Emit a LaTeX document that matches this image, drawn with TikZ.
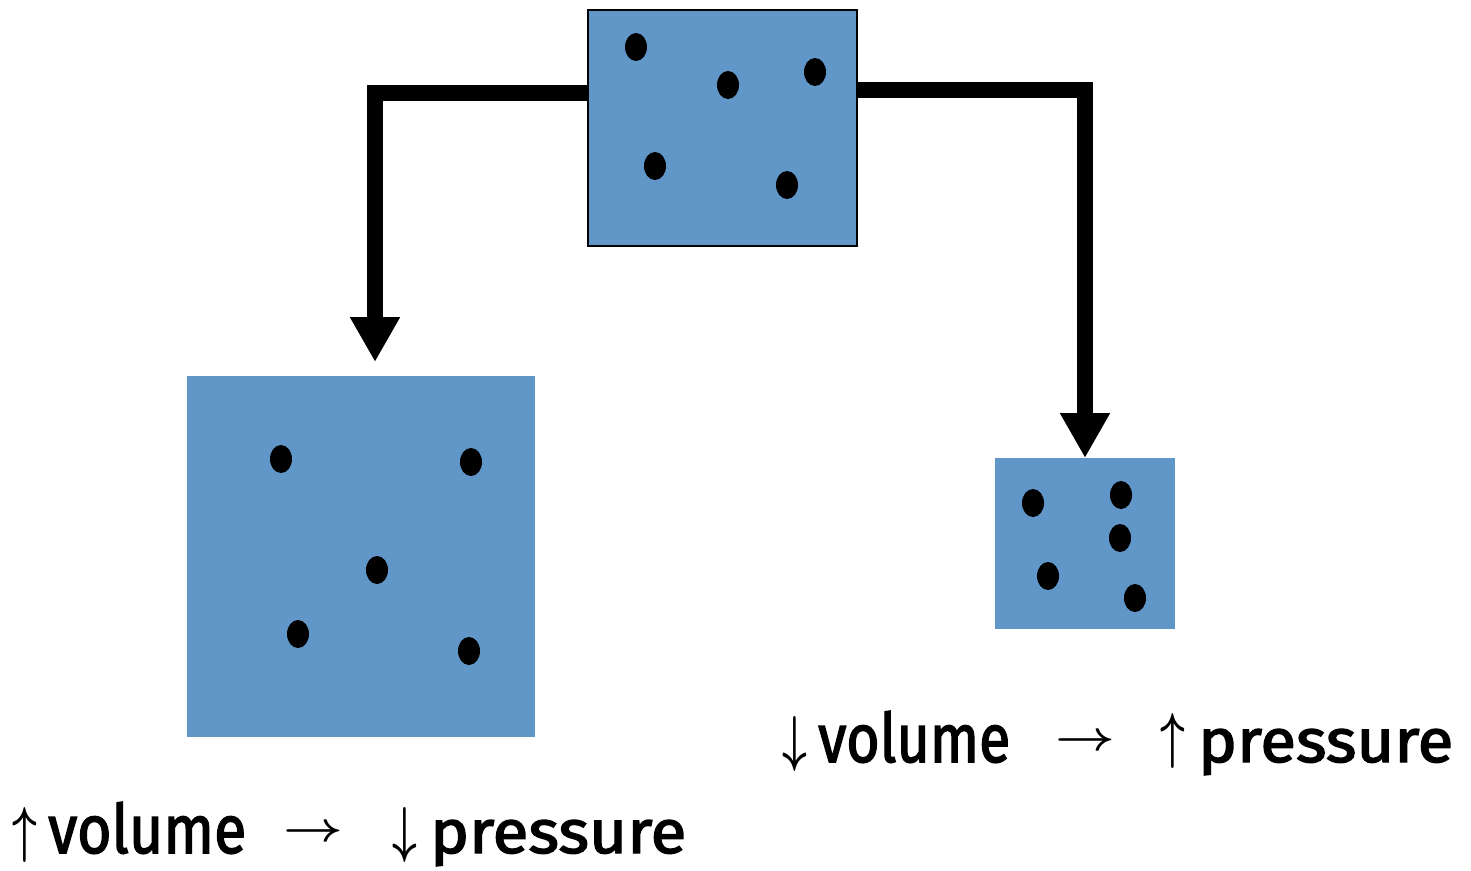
\documentclass[tikz,border=0pt]{standalone}
\usepackage{fontspec}
\usepackage{graphicx}
\setmainfont{Fira Sans}
\newfontfamily\wordfont{Fira Sans}[FakeBold=2.2]
\usetikzlibrary{arrows.meta}
\definecolor{gasblue}{RGB}{96,150,200}
\begin{document}
\begin{tikzpicture}[x=1pt,y=-1pt,
  gas/.style={fill=gasblue,draw=none,inner sep=0pt,outer sep=0pt},
  pipe/.style={line width=16pt,line join=miter,-{Triangle[width=47pt,length=45pt]}},
  word/.style={anchor=base west,inner sep=0pt,font=\wordfont},
  sym/.style={inner sep=0pt,font=\boldmath}]
\useasboundingbox (0,0) rectangle (1471,870);
% containers
\node[gas,draw=black,line width=2.3pt,minimum width=269pt,minimum height=236pt] (top) at (722.5,128) {};
\node[gas,minimum width=348pt,minimum height=361pt] (lbox) at (361,556.5) {};
\node[gas,minimum width=180pt,minimum height=171pt] (rbox) at (1085,543.5) {};
% connectors
\coordinate (lbend) at (375,93);
\coordinate (rbend) at (1085,90);
\draw[pipe,shorten >=14pt] (top.west |- lbend) -- (lbend) -- (lbend |- lbox.north);
\draw[pipe] (top.east |- rbend) -- (rbend) -- (rbox.north);
% particles
\foreach \p in {(636,47),(728,85),(815,72),(655,166),(787,185),
                (281,459),(471,462),(377,570),(298,634),(469,651),
                (1033,503),(1121,495),(1120,538),(1048,576),(1135,598)}
  \fill[black] \p ellipse (11 and 14);
% labels
\node[sym] (lup) at (25,834.5) {\scalebox{4.3}[6.2]{$\uparrow$}};
\node[word] (lvol) at (48,853) {\resizebox{198pt}{51pt}{volume}};
\node[sym] (lto) at (313,833) {\scalebox{5.2}[4.2]{$\rightarrow$}};
\node[sym] (ldown) at (405,834.5) {\scalebox{4.3}[6.2]{$\downarrow$}};
\node[word] (lpres) at (430,853) {\resizebox{256pt}{33pt}{pressure}};
\node[sym] (rdown) at (795,743.5) {\scalebox{4.3}[6.2]{$\downarrow$}};
\node[word] (rvol) at (818,762) {\resizebox{192pt}{51pt}{volume}};
\node[sym] (rto) at (1085,742) {\scalebox{5.2}[4.2]{$\rightarrow$}};
\node[sym] (rup) at (1173,741) {\scalebox{4.3}[6.2]{$\uparrow$}};
\node[word] (rpres) at (1198,762) {\resizebox{255pt}{33pt}{pressure}};
\end{tikzpicture}
\end{document}
